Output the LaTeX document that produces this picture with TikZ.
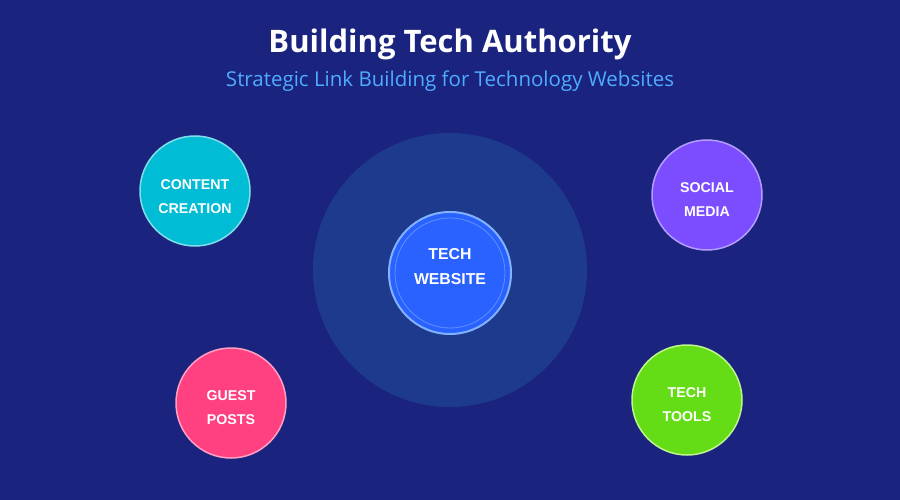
\documentclass[tikz,border=0pt]{standalone}
\usepackage{fontspec}
\setmainfont{Liberation Sans}
\newfontfamily\titlefont{Open Sans}
\definecolor{bg}{RGB}{26,35,126}
\definecolor{halo}{RGB}{30,58,140}
\definecolor{hub}{RGB}{41,98,255}
\definecolor{hubrim}{RGB}{130,177,255}
\definecolor{subc}{RGB}{79,172,254}
\definecolor{cyanf}{RGB}{0,188,212}
\definecolor{cyanr}{RGB}{128,222,234}
\definecolor{violf}{RGB}{124,77,255}
\definecolor{violr}{RGB}{179,157,255}
\definecolor{pinkf}{RGB}{255,64,129}
\definecolor{pinkr}{RGB}{255,160,195}
\definecolor{limef}{RGB}{100,221,23}
\definecolor{limer}{RGB}{190,245,140}
\begin{document}
\begin{tikzpicture}[x=1pt,y=-1pt,
  topic/.style={circle,minimum size=110pt,inner sep=0pt,line width=1.5pt},
  topiclabel/.style={text=white,font=\bfseries\fontsize{14.2}{24}\selectfont,align=center}]
\useasboundingbox (0,0) rectangle (900,500);
\fill[bg] (0,0) rectangle (900,500);
\node[text=white,font=\titlefont\bfseries\fontsize{31}{36}\selectfont] (title) at (450,44) {Building Tech Authority};
\node[text=subc,font=\titlefont\fontsize{20.5}{24}\selectfont] (sub) at (450,81) {Strategic Link Building for Technology Websites};
\node[circle,fill=halo,minimum size=274pt,inner sep=0pt] (halo) at (450,270) {};
\node[circle,fill=hub,draw=hubrim,line width=2pt,minimum size=122pt,inner sep=0pt] (hub) at (450,273) {};
\draw[hubrim!60!hub,line width=0.8pt] (hub.center) circle (55);
\node[text=white,font=\bfseries\fontsize{15.8}{25}\selectfont,align=center] (hubt) at (450,267) {TECH\\WEBSITE};
\node[topic,fill=cyanf,draw=cyanr] (cc) at (195,191) {};
\node[topic,fill=violf,draw=violr] (sm) at (707,195) {};
\node[topic,fill=pinkf,draw=pinkr] (gp) at (231,403) {};
\node[topic,fill=limef,draw=limer] (tt) at (687,400) {};
\node[topiclabel] (cct) at (195,197) {CONTENT\\CREATION};
\node[topiclabel] (smt) at (707,200) {SOCIAL\\MEDIA};
\node[topiclabel] (gpt) at (231,408) {GUEST\\POSTS};
\node[topiclabel] (ttt) at (687,405) {TECH\\TOOLS};
\end{tikzpicture}
\end{document}
